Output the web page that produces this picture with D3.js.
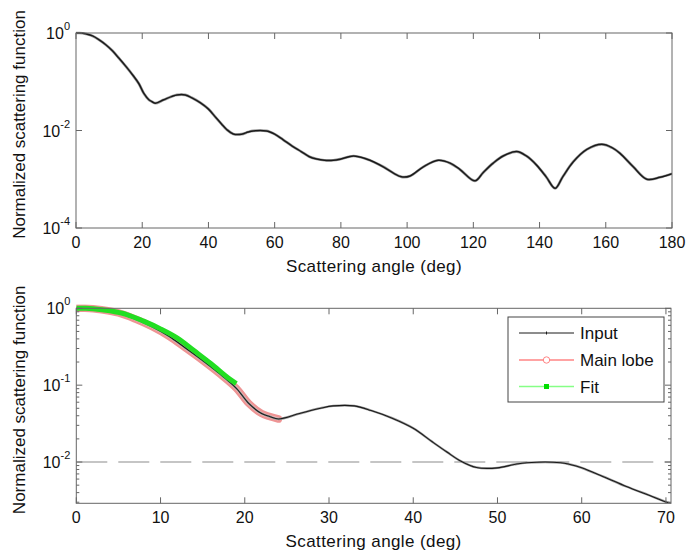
<!DOCTYPE html>
<html>
<head>
<meta charset="utf-8">
<script src="https://cdn.jsdelivr.net/npm/d3@7"></script>
<style>
  body { margin: 0; background: #fff; }
  svg text { font-family: "Liberation Sans", Arial, sans-serif; fill: #111; }
</style>
</head>
<body>
<svg id="chart" width="688" height="556"></svg>
<script>
// Input scattering function (deg, normalized value)
let inputAngle = [0, 1, 2, 3, 5, 7, 9, 11, 13, 15, 17, 19, 20.5, 22, 23, 24,
  26.5, 29, 30.5, 33, 35, 37.5, 40, 42.3, 44, 45.5, 47.5, 50, 52, 53.5, 57.5,
  58.6, 60, 62.5, 65.3, 68, 70.5, 72.7, 75, 77.7, 80, 83.8, 87.7, 92.8, 96,
  98.3, 100.9, 104.9, 109.4, 113, 116, 120.5, 123, 126, 129, 133.1, 136,
  139.1, 142, 144.7, 147, 150.2, 154.3, 158.8, 162, 164.3, 168.3, 172.4,
  176.4, 180];
let inputValue = [1, 1, 0.989, 0.959, 0.871, 0.724, 0.575, 0.432, 0.302, 0.209,
  0.141, 0.091, 0.0575, 0.0427, 0.0389, 0.0363, 0.0427, 0.0501, 0.0537, 0.0537,
  0.0468, 0.0372, 0.0275, 0.0182, 0.0135, 0.0105, 0.0085, 0.0084, 0.0093,
  0.0098, 0.0098, 0.0093, 0.0084, 0.0065, 0.0048, 0.0037, 0.0029, 0.0026,
  0.00245, 0.00245, 0.0026, 0.003, 0.0026, 0.0018, 0.00132, 0.00112, 0.00117,
  0.0018, 0.00245, 0.00214, 0.00158, 0.00093, 0.00138, 0.00214, 0.003, 0.0037,
  0.003, 0.00195, 0.00112, 0.00065, 0.00112, 0.00229, 0.0041, 0.0052, 0.0044,
  0.0034, 0.0018, 0.001, 0.0011, 0.0013];

// Main lobe ends at the first minimum
let MAIN_LOBE_END = 24;

// Fitted curve
let fitAngle = [0, 1, 2, 4, 6, 8, 10, 12, 14, 16, 18, 19];
let fitValue = [1, 1, 0.99, 0.93, 0.83, 0.68, 0.54, 0.41, 0.28, 0.19, 0.125, 0.105];

let THRESHOLD = 0.01;

let topXTicks = [0, 20, 40, 60, 80, 100, 120, 140, 160, 180];
let topYTicks = [0, -2, -4];
let botXTicks = [0, 10, 20, 30, 40, 50, 60, 70];
let botYTicks = [0, -1, -2];

let legendLabels = ["Input", "Main lobe", "Fit"];

let kColors = {
  "frame": "#666",
  "input": "#1a1a1a",
  "inputHalo": "#9a9a9a",
  "lobe": "#ee9494",
  "lobeInner": "#f6c4c4",
  "lobeLegend": "#ff8484",
  "fit": "#22de22",
  "fitLegend": "#86ff86",
  "dash": "#8c8c8c"
};

let svg = d3.select("#chart");

let pts = inputAngle.map((a, i) => ({a: a, v: inputValue[i]}));
let fitPts = fitAngle.map((a, i) => ({a: a, v: fitValue[i]}));
let lobePts = pts.filter(d => d.a <= MAIN_LOBE_END);


function drawPanel(p){
  let x = d3.scaleLinear().domain(p.xDomain).range([p.x0, p.x1]);
  let y = d3.scaleLog().domain(p.yDomain).range([p.y1, p.y0]);
  let g = svg.append("g");

  let clipId = "clip" + p.id;
  svg.append("clipPath").attr("id", clipId)
    .append("rect")
    .attr("x", p.x0).attr("y", p.y0 - 4)
    .attr("width", p.x1 - p.x0).attr("height", p.y1 - p.y0 + 4);

  let line = d3.line()
    .x(d => x(d.a))
    .y(d => y(d.v))
    .curve(d3.curveCatmullRom.alpha(0.5));

  let plot = g.append("g").attr("clip-path", "url(#" + clipId + ")");

  if (p.dashed) {
    plot.append("line")
      .attr("x1", p.x0).attr("x2", p.x1)
      .attr("y1", y(THRESHOLD)).attr("y2", y(THRESHOLD))
      .attr("stroke", kColors.dash)
      .attr("stroke-width", 1.2)
      .attr("stroke-dasharray", "31,11");
  }

  // Main lobe: overlapping hollow circles read as a pink band
  if (p.lobe) {
    plot.append("path").datum(lobePts)
      .attr("d", line)
      .attr("fill", "none")
      .attr("stroke", kColors.lobe)
      .attr("stroke-width", 7.5)
      .attr("stroke-linecap", "round");
    plot.append("path").datum(lobePts)
      .attr("d", line)
      .attr("fill", "none")
      .attr("stroke", kColors.lobeInner)
      .attr("stroke-width", 3);
  }

  // Input: dense dot markers look like a fuzzy line
  plot.append("path").datum(pts)
    .attr("d", line)
    .attr("fill", "none")
    .attr("stroke", kColors.inputHalo)
    .attr("stroke-width", p.inputWidth + 1.2);
  plot.append("path").datum(pts)
    .attr("d", line)
    .attr("fill", "none")
    .attr("stroke", kColors.input)
    .attr("stroke-width", p.inputWidth);

  if (p.fit) {
    plot.append("path").datum(fitPts)
      .attr("d", line)
      .attr("fill", "none")
      .attr("stroke", kColors.fit)
      .attr("stroke-width", 5);
  }

  // Frame
  g.append("rect")
    .attr("x", p.x0).attr("y", p.y0)
    .attr("width", p.x1 - p.x0).attr("height", p.y1 - p.y0)
    .attr("fill", "none")
    .attr("stroke", kColors.frame)
    .attr("stroke-width", 1);

  // X ticks (inward, top and bottom)
  p.xTicks.forEach(function(t){
    let tx = x(t);
    g.append("line").attr("x1", tx).attr("x2", tx)
      .attr("y1", p.y1).attr("y2", p.y1 - 6)
      .attr("stroke", kColors.frame);
    g.append("line").attr("x1", tx).attr("x2", tx)
      .attr("y1", p.y0).attr("y2", p.y0 + 6)
      .attr("stroke", kColors.frame);
    g.append("text")
      .attr("x", tx).attr("y", p.y1 + 20)
      .attr("text-anchor", "middle")
      .attr("font-size", 16)
      .text(t);
  });

  // Y ticks (decades)
  p.yTicks.forEach(function(e){
    let ty = y(Math.pow(10, e));
    g.append("line").attr("x1", p.x0).attr("x2", p.x0 + 6)
      .attr("y1", ty).attr("y2", ty).attr("stroke", kColors.frame);
    g.append("line").attr("x1", p.x1).attr("x2", p.x1 - 6)
      .attr("y1", ty).attr("y2", ty).attr("stroke", kColors.frame);
    let lab = g.append("text")
      .attr("x", p.x0 - 6).attr("y", ty + 6)
      .attr("text-anchor", "end")
      .attr("font-size", 16);
    lab.append("tspan").text("10");
    lab.append("tspan").attr("dy", -9).attr("font-size", 11).text(e);
  });

  // Minor log ticks
  if (p.minor) {
    let lo = Math.floor(Math.log10(p.yDomain[0]));
    for (let e = lo; e < 0; e++) {
      for (let m = 2; m <= 9; m++) {
        let v = m * Math.pow(10, e);
        if (v < p.yDomain[0]) continue;
        let ty = y(v);
        g.append("line").attr("x1", p.x0).attr("x2", p.x0 + 3)
          .attr("y1", ty).attr("y2", ty).attr("stroke", kColors.frame);
        g.append("line").attr("x1", p.x1).attr("x2", p.x1 - 3)
          .attr("y1", ty).attr("y2", ty).attr("stroke", kColors.frame);
      }
    }
  }

  // Axis labels
  g.append("text")
    .attr("x", (p.x0 + p.x1) / 2).attr("y", p.y1 + 44)
    .attr("text-anchor", "middle")
    .attr("font-size", 17)
    .attr("letter-spacing", 0.4)
    .text("Scattering angle (deg)");

  g.append("text")
    .attr("transform", "translate(25," + ((p.y0 + p.y1) / 2 - 6) + ") rotate(-90)")
    .attr("text-anchor", "middle")
    .attr("font-size", 17)
    .text("Normalized scattering function");
}


function drawLegend(){
  let bx = 508, by = 317, bw = 156, bh = 85;
  let g = svg.append("g");
  g.append("rect")
    .attr("x", bx).attr("y", by).attr("width", bw).attr("height", bh)
    .attr("fill", "#fff").attr("stroke", "#444").attr("stroke-width", 1);

  let rows = [by + 16, by + 43, by + 69.5];
  let lx1 = 519, lx2 = 574, mx = (lx1 + lx2) / 2;
  let colors = [kColors.input, kColors.lobeLegend, kColors.fitLegend];

  legendLabels.forEach(function(label, i){
    let ry = rows[i];
    g.append("line").attr("x1", lx1).attr("x2", lx2)
      .attr("y1", ry).attr("y2", ry)
      .attr("stroke", colors[i]).attr("stroke-width", i === 0 ? 1 : 1.6);

    if (i === 0) {
      g.append("line").attr("x1", mx).attr("x2", mx)
        .attr("y1", ry - 1.5).attr("y2", ry + 1.5)
        .attr("stroke", kColors.input);
    } else if (i === 1) {
      g.append("circle").attr("cx", mx).attr("cy", ry).attr("r", 3.2)
        .attr("fill", "#fff").attr("stroke", kColors.lobeLegend);
    } else {
      g.append("rect").attr("x", mx - 2.5).attr("y", ry - 2.5)
        .attr("width", 5).attr("height", 5).attr("fill", "#00dd00");
    }

    g.append("text")
      .attr("x", 580).attr("y", ry + 6)
      .attr("font-size", 17)
      .text(label);
  });
}


drawPanel({
  id: "top",
  x0: 76, x1: 672, y0: 33, y1: 228,
  xDomain: [0, 180], yDomain: [1e-4, 1],
  xTicks: topXTicks, yTicks: topYTicks,
  inputWidth: 1.5, minor: false
});

drawPanel({
  id: "bot",
  x0: 76.3, x1: 671, y0: 308.3, y1: 503.3,
  xDomain: [0, 70.6], yDomain: [Math.pow(10, -2.537), 1],
  xTicks: botXTicks, yTicks: botYTicks,
  inputWidth: 1.1, minor: true,
  dashed: true, lobe: true, fit: true
});

drawLegend();
</script>
</body>
</html>
